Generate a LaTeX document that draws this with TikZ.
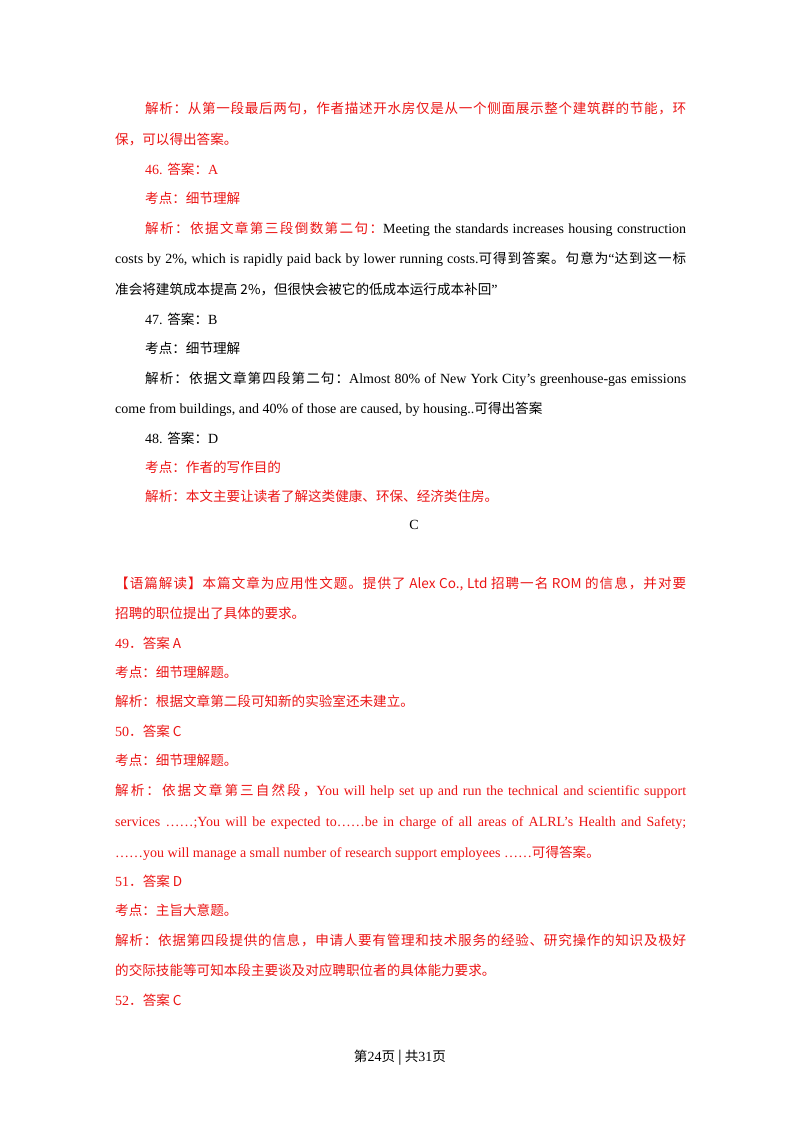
\documentclass[tikz,border=0pt]{standalone}
\usepackage{fontspec}
\setmainfont{Liberation Serif}
\newfontfamily\cjk[Scale=0.97]{Noto Sans CJK SC}
\XeTeXinterchartokenstate=1
\newXeTeXintercharclass\CJKclass
\makeatletter
\count@="4E00
\loop\ifnum\count@<"A000 \XeTeXcharclass\count@=\CJKclass \advance\count@ by 1 \repeat
\count@="3000
\loop\ifnum\count@<"3040 \XeTeXcharclass\count@=\CJKclass \advance\count@ by 1 \repeat
\count@="FF00
\loop\ifnum\count@<"FF60 \XeTeXcharclass\count@=\CJKclass \advance\count@ by 1 \repeat
\makeatother
\XeTeXinterchartoks 0 \CJKclass {\cjk}
\XeTeXinterchartoks 4095 \CJKclass {\cjk}
\XeTeXinterchartoks \CJKclass 0 {\rmfamily}
\XeTeXinterchartoks \CJKclass \CJKclass {\hskip0pt plus 3pt}
\definecolor{rd}{RGB}{235,20,20}
\tikzset{tl/.style={anchor=base west,inner sep=0pt,font=\fontsize{14}{14}\selectfont}}
\newcommand\tline[5]{\node[tl,text=#4] (#1) at (#2pt,-#3pt) {#5};}
\newcommand\jline[5]{\node[tl,text=#4] (#1) at (#2pt,-#3pt) {\hbox to \dimexpr686pt-#2pt\relax{#5}};}
\begin{document}
\begin{tikzpicture}[x=1pt,y=1pt]
\useasboundingbox (0,0) rectangle (800,-1132);
\jline{l1}{145}{113}{rd}{解析：从第一段最后两句，作者描述开水房仅是从一个侧面展示整个建筑群的节能，环}
\tline{l2}{115}{144}{rd}{保，可以得出答案。}
\tline{l3}{145}{174}{rd}{46. 答案：A}
\tline{l4}{145}{203}{rd}{考点：细节理解}
\jline{l5}{145}{233}{black}{\textcolor{rd}{解析：依据文章第三段倒数第二句：}Meeting the standards increases housing construction}
\jline{l6}{115}{263}{black}{costs by 2\%, which is rapidly paid back by lower running costs.可得到答案。句意为“达到这一标}
\tline{l7}{115}{294}{black}{准会将建筑成本提高 2\%，但很快会被它的低成本运行成本补回”}
\tline{l8}{145}{324}{black}{47. 答案：B}
\tline{l9}{145}{353}{black}{考点：细节理解}
\jline{l10}{145}{383}{black}{解析：依据文章第四段第二句：Almost 80\% of New York City’s greenhouse-gas emissions}
\tline{l11}{115}{413}{black}{come from buildings, and 40\% of those are caused, by housing..可得出答案}
\tline{l12}{145}{443}{black}{48. 答案：D}
\tline{l13}{145}{472}{rd}{考点：作者的写作目的}
\tline{l14}{145}{501}{rd}{解析：本文主要让读者了解这类健康、环保、经济类住房。}
\node[tl,anchor=base] (c) at (414,-529) {C};
\jline{l16}{115}{588}{rd}{【语篇解读】本篇文章为应用性文题。提供了 Alex Co., Ltd 招聘一名 ROM 的信息，并对要}
\tline{l17}{115}{618}{rd}{招聘的职位提出了具体的要求。}
\tline{l18}{115}{648}{rd}{49．答案 A}
\tline{l19}{115}{677}{rd}{考点：细节理解题。}
\tline{l20}{115}{706}{rd}{解析：根据文章第二段可知新的实验室还未建立。}
\tline{l21}{115}{736}{rd}{50．答案 C}
\tline{l22}{115}{765}{rd}{考点：细节理解题。}
\jline{l23}{115}{795}{rd}{解析：依据文章第三自然段，You will help set up and run the technical and scientific support}
\jline{l24}{115}{826}{rd}{services ……;You will be expected to……be in charge of all areas of ALRL’s Health and Safety;}
\tline{l25}{115}{857}{rd}{……you will manage a small number of research support employees ……可得答案。}
\tline{l26}{115}{886}{rd}{51．答案 D}
\tline{l27}{115}{915}{rd}{考点：主旨大意题。}
\jline{l28}{115}{945}{rd}{解析：依据第四段提供的信息，申请人要有管理和技术服务的经验、研究操作的知识及极好}
\tline{l29}{115}{975}{rd}{的交际技能等可知本段主要谈及对应聘职位者的具体能力要求。}
\tline{l30}{115}{1005}{rd}{52．答案 C}
\node[tl,anchor=base] (pg) at (400,-1061) {第24页 | 共31页};
\end{tikzpicture}
\end{document}
